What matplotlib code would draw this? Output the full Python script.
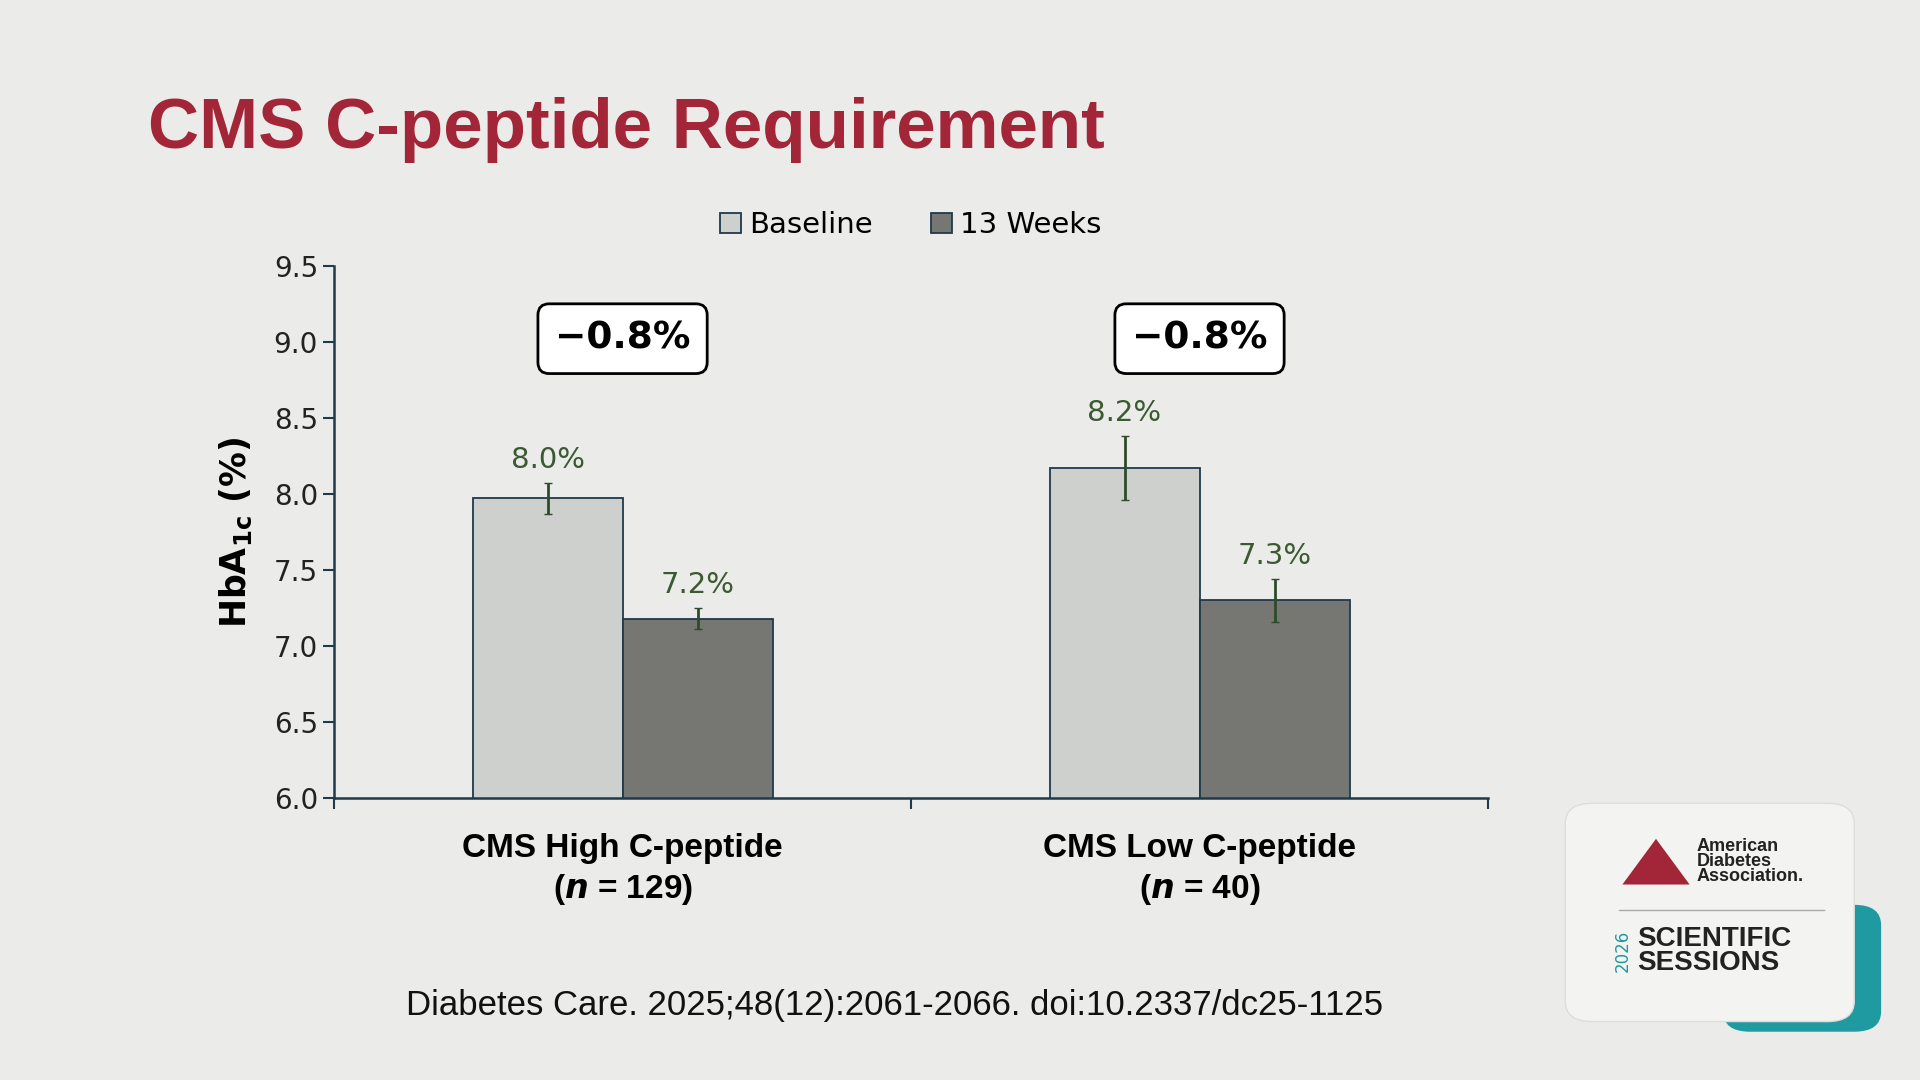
import numpy as np
import matplotlib.pyplot as plt
from matplotlib.patches import FancyBboxPatch, Polygon

groups = ['CMS High C-peptide\n($\\mathbfit{n}$ = 129)', 'CMS Low C-peptide\n($\\mathbfit{n}$ = 40)']
baseline = [7.97, 8.17]
weeks13 = [7.18, 7.30]
err_base = [0.10, 0.21]
err_13 = [0.07, 0.14]
lab_base = ['8.0%', '8.2%']
lab_13 = ['7.2%', '7.3%']
diffs = ['\u22120.8%', '\u22120.8%']

bg = '#EBECE9'
fig = plt.figure(figsize=(19.2, 10.8), dpi=100, facecolor=bg)
plt.rcParams['font.family'] = ['DejaVu Sans']

fig.text(0.077, 0.88, 'CMS C-peptide Requirement', color='#A32638', fontsize=51,
         fontweight='bold', family='Liberation Sans', va='center')

ax = fig.add_axes([0.174, 0.261, 0.601, 0.493])
ax.set_facecolor(bg)
x = np.array([0.5, 1.5])
w = 0.26
ax.bar(x - w / 2, baseline, w, color='#CDD0CD', edgecolor='#1F3A4D', linewidth=1.3, label='Baseline')
ax.bar(x + w / 2, weeks13, w, color='#767673', edgecolor='#1F3A4D', linewidth=1.3, label='13 Weeks')
ax.errorbar(x - w / 2, baseline, yerr=err_base, fmt='none', ecolor='#2F4A2A', elinewidth=2, capsize=3)
ax.errorbar(x + w / 2, weeks13, yerr=err_13, fmt='none', ecolor='#2F4A2A', elinewidth=2, capsize=3)
for i in range(2):
    ax.text(x[i] - w / 2, baseline[i] + err_base[i] + 0.06, lab_base[i], ha='center', va='bottom',
            fontsize=21, color='#3C5A32')
    ax.text(x[i] + w / 2, weeks13[i] + err_13[i] + 0.06, lab_13[i], ha='center', va='bottom',
            fontsize=21, color='#3C5A32')
    ax.text(x[i], 9.02, diffs[i], ha='center', va='center', fontsize=27, fontweight='bold',
            bbox=dict(boxstyle='round,pad=0.45,rounding_size=0.3', fc='white', ec='black', lw=2))

ax.set_xlim(0, 2)
ax.set_ylim(6.0, 9.5)
ax.set_yticks(np.arange(6.0, 9.51, 0.5))
ax.set_yticklabels([f'{v:.1f}' for v in np.arange(6.0, 9.51, 0.5)], fontsize=20, color='#222')
ax.set_xticks([0, 1, 2])
ax.set_xticklabels([])
ax.tick_params(axis='both', length=8, width=1.5, color='#1F3A4D')
for i, g in enumerate(groups):
    ax.text(x[i], 5.77, g, ha='center', va='top', fontsize=24, fontweight='bold',
            linespacing=1.3, family='Liberation Sans')
for s in ['top', 'right']:
    ax.spines[s].set_visible(False)
for s in ['left', 'bottom']:
    ax.spines[s].set_color('#1F3A4D')
    ax.spines[s].set_linewidth(1.8)
ax.set_ylabel('HbA$_{\\mathbf{1c}}$ (%)', fontsize=25, fontweight='bold', labelpad=14)
ax.legend(loc='lower center', bbox_to_anchor=(0.5, 1.0), ncol=2, frameon=False, fontsize=21,
          handlelength=0.7, handleheight=0.7, handletextpad=0.3, columnspacing=2.0)

fig.text(0.466, 0.069, 'Diabetes Care. 2025;48(12):2061-2066. doi:10.2337/dc25-1125',
         fontsize=25, family='Liberation Sans', ha='center', va='center', color='#111')

# ADA logo card
la = fig.add_axes([0.81, 0.04, 0.175, 0.235])
la.set_xlim(0, 1)
la.set_ylim(0, 1)
la.axis('off')
la.add_patch(FancyBboxPatch((0.5, 0.02), 0.47, 0.5, boxstyle='round,pad=0,rounding_size=0.08',
                            fc='#1F9AA0', ec='none'))
la.add_patch(FancyBboxPatch((0.03, 0.06), 0.86, 0.86, boxstyle='round,pad=0,rounding_size=0.08',
                            fc='#F3F3F1', ec='#DDDDDA'))
la.add_patch(Polygon([[0.2, 0.6], [0.3, 0.78], [0.4, 0.6]], closed=True, fc='#A32638'))
la.text(0.42, 0.69, 'American\nDiabetes\nAssociation.', fontsize=13, fontweight='bold',
        family='Liberation Sans', va='center', linespacing=0.85, color='#222')
la.plot([0.19, 0.8], [0.5, 0.5], color='#AAAAAA', lw=1)
la.text(0.2, 0.34, '2026', rotation=90, fontsize=12, color='#1F9AA0', va='center', ha='center')
la.text(0.245, 0.34, 'SCIENTIFIC\nSESSIONS', fontsize=20, fontweight='bold', family='Liberation Sans',
        va='center', linespacing=0.9, color='#222')

fig.savefig('out.png', dpi=100, facecolor=bg)
